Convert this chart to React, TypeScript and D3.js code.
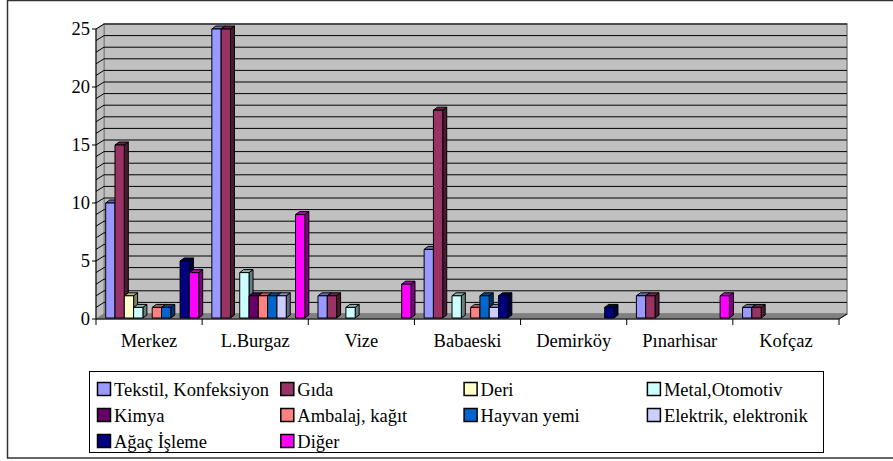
import * as d3 from "d3";

const categories = ["Merkez", "L.Burgaz", "Vize", "Babaeski", "Demirköy", "Pınarhisar", "Kofçaz"];

const seriesNames = [
  "Tekstil, Konfeksiyon", "Gıda", "Deri", "Metal,Otomotiv", "Kimya",
  "Ambalaj, kağıt", "Hayvan yemi", "Elektrik, elektronik", "Ağaç İşleme", "Diğer",
];
const seriesColors = [
  "#9999FF", "#993366", "#FFFFCC", "#CCFFFF", "#660066",
  "#FF8080", "#0066CC", "#CCCCFF", "#000080", "#FF00FF",
];

// one array per series, values per category
const tekstil = [10, 25, 2, 6, 0, 2, 1];
const gida = [15, 25, 2, 18, 0, 2, 1];
const deri = [2, 0, 0, 0, 0, 0, 0];
const metal = [1, 4, 1, 2, 0, 0, 0];
const kimya = [0, 2, 0, 0, 0, 0, 0];
const ambalaj = [1, 2, 0, 1, 0, 0, 0];
const hayvan = [1, 2, 0, 2, 0, 0, 0];
const elektrik = [0, 2, 0, 1, 0, 0, 0];
const agac = [5, 0, 0, 2, 1, 0, 0];
const diger = [4, 9, 3, 0, 0, 2, 0];
const seriesValues = [tekstil, gida, deri, metal, kimya, ambalaj, hayvan, elektrik, agac, diger];

const yTicks = [0, 5, 10, 15, 20, 25];

const W = 893;
const H = 461;
const FONT = "Liberation Serif, Times New Roman, DejaVu Serif, serif";

// 3D depth of the walls and of each column
const wallDx = 8;
const wallDy = -5;
const barDx = 4;
const barDy = -3;

function shade(c: string, k: number) {
  const col = d3.rgb(c);
  return d3.rgb(col.r * k, col.g * k, col.b * k).toString();
}

export default function App() {
  const x0 = d3.scaleBand<string>().domain(categories).range([96, 839]);
  const x1 = d3.scaleBand<string>().domain(seriesNames).range([9.7, 9.7 + 93]);
  const y = d3.scaleLinear().domain([0, 25]).range([319, 29]);
  const units = d3.range(0, 26);

  const left = x0.range()[0];
  const right = x0.range()[1];
  const y0 = y(0);
  const yTop = y(25);

  const bars: { x: number; top: number; w: number; color: string; key: string }[] = [];
  categories.forEach((cat, ci) => {
    seriesNames.forEach((s, si) => {
      const v = seriesValues[si][ci];
      if (v <= 0) return;
      bars.push({
        x: (x0(cat) as number) + (x1(s) as number),
        top: y(v),
        w: x1.bandwidth(),
        color: seriesColors[si],
        key: cat + s,
      });
    });
  });
  bars.sort((a, b) => a.x - b.x);

  const legendX = 89;
  const legendY = 371;
  const colW = 183.3;
  const rowH = 26;
  const textStyle = { fontFamily: FONT, fontSize: "18.5px" };

  return (
    <svg width={W} height={H} style={{ position: "absolute", left: 0, top: 0, background: "#fff" }}>
      {/* outer frame */}
      <rect x={7.5} y={0.5} width={W + 10} height={457.5} fill="#fff" stroke="#333" strokeWidth={1.5} />

      {/* back wall */}
      <rect
        x={left + wallDx}
        y={yTop + wallDy}
        width={right - left}
        height={y0 - yTop}
        fill="#C0C0C0"
        stroke="#808080"
        strokeWidth={1.5}
      />
      {/* left wall */}
      <polygon
        points={`${left},${yTop} ${left + wallDx},${yTop + wallDy} ${left + wallDx},${y0 + wallDy} ${left},${y0}`}
        fill="#C0C0C0"
        stroke="#808080"
      />
      {/* floor */}
      <polygon
        points={`${left},${y0} ${right},${y0} ${right + wallDx},${y0 + wallDy} ${left + wallDx},${y0 + wallDy}`}
        fill="#808080"
        stroke="#808080"
      />

      {/* gridlines */}
      {units.slice(1).map((v) => (
        <g key={"g" + v}>
          <line x1={left + wallDx} x2={right + wallDx} y1={y(v) + wallDy} y2={y(v) + wallDy} stroke="#000" strokeWidth={1} />
          <line x1={left} x2={left + wallDx} y1={y(v)} y2={y(v) + wallDy} stroke="#000" strokeWidth={1} />
        </g>
      ))}

      {/* columns */}
      {bars.map((b) => {
        const bottom = y0 - 1;
        return (
          <g key={b.key} stroke="#000" strokeWidth={1} strokeLinejoin="round">
            <polygon
              points={`${b.x + b.w},${b.top} ${b.x + b.w + barDx},${b.top + barDy} ${b.x + b.w + barDx},${bottom + barDy} ${b.x + b.w},${bottom}`}
              fill={shade(b.color, 0.5)}
            />
            <polygon
              points={`${b.x},${b.top} ${b.x + barDx},${b.top + barDy} ${b.x + b.w + barDx},${b.top + barDy} ${b.x + b.w},${b.top}`}
              fill={shade(b.color, 0.7)}
            />
            <rect x={b.x} y={b.top} width={b.w} height={bottom - b.top} fill={b.color} />
          </g>
        );
      })}

      {/* axes */}
      <line x1={left} x2={left} y1={yTop} y2={y0} stroke="#000" />
      <line x1={left} x2={right} y1={y0} y2={y0} stroke="#000" />
      <line x1={right} x2={right + wallDx} y1={y0} y2={y0 + wallDy} stroke="#000" />
      {yTicks.map((t) => (
        <g key={"yt" + t}>
          <line x1={left - 4} x2={left} y1={y(t)} y2={y(t)} stroke="#000" />
          <text x={left - 6} y={y(t) + 6} textAnchor="end" style={textStyle} fill="#000">
            {t}
          </text>
        </g>
      ))}
      {categories.map((c) => (
        <line
          key={"xt" + c}
          x1={(x0(c) as number) + x0.bandwidth()}
          x2={(x0(c) as number) + x0.bandwidth()}
          y1={y0}
          y2={y0 + 6}
          stroke="#000"
        />
      ))}
      <line x1={left} x2={left} y1={y0} y2={y0 + 6} stroke="#000" />
      {categories.map((c) => (
        <text
          key={"xl" + c}
          x={(x0(c) as number) + x0.bandwidth() / 2}
          y={347}
          textAnchor="middle"
          style={textStyle}
          fill="#000"
        >
          {c}
        </text>
      ))}

      {/* legend */}
      <rect x={legendX + 0.5} y={legendY + 0.5} width={734} height={81} fill="#fff" stroke="#000" />
      {seriesNames.map((s, i) => {
        const col = i % 4;
        const row = Math.floor(i / 4);
        const sx = 96 + col * colW;
        const cy = 389 + row * rowH;
        return (
          <g key={"lg" + s}>
            <rect x={sx + 1.5} y={cy - 6.5} width={13} height={13} fill={seriesColors[i]} stroke="#000" strokeWidth={1.5} />
            <text x={sx + 18} y={cy + 6.5} style={textStyle} fill="#000">
              {s}
            </text>
          </g>
        );
      })}
    </svg>
  );
}
